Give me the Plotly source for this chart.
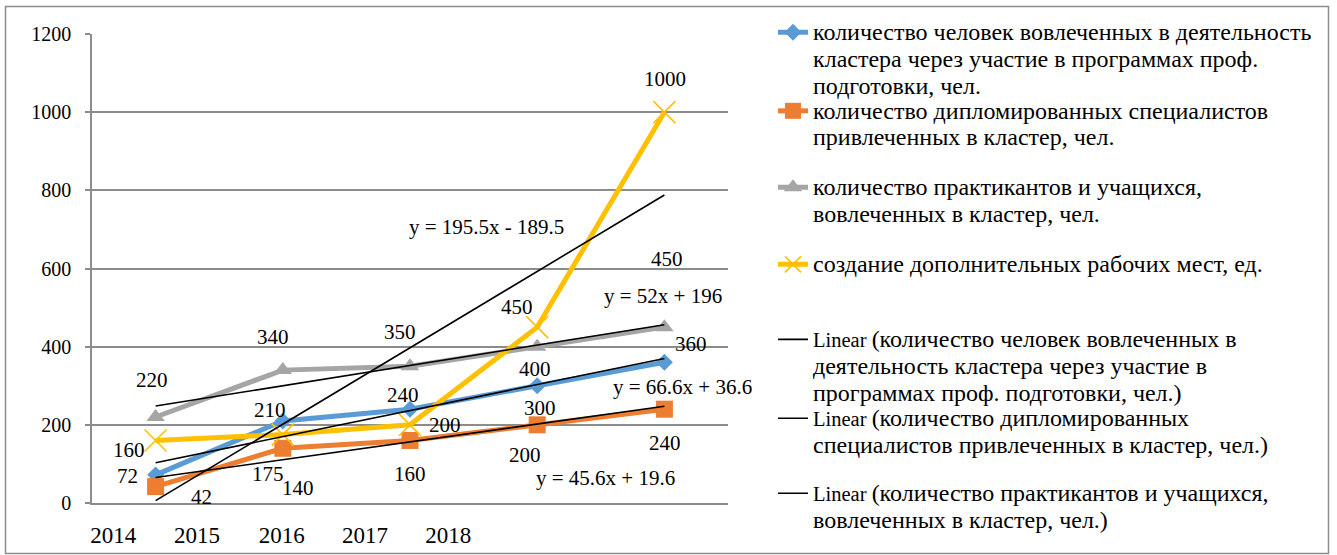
import numpy as np
import plotly.graph_objects as go

# --- data -------------------------------------------------------------
periods = [1, 2, 3, 4, 5]
year_labels = ["2014", "2015", "2016", "2017", "2018"]

people_trained = [72, 210, 240, 300, 360]
graduates = [42, 140, 160, 200, 240]
interns = [220, 340, 350, 400, 450]
new_jobs = [160, 175, 200, 450, 1000]

series_lines = [
    ["количество человек вовлеченных в деятельность",
     "кластера через участие в программах проф.",
     "подготовки, чел."],
    ["количество дипломированных специалистов",
     "привлеченных в кластер, чел."],
    ["количество практикантов и учащихся,",
     "вовлеченных в кластер, чел."],
    ["создание дополнительных рабочих мест, ед."],
]
trend_lines = [
    ["(количество человек вовлеченных в",
     "деятельность кластера через участие в",
     "программах проф. подготовки, чел.)"],
    ["(количество дипломированных",
     "специалистов привлеченных в кластер, чел.)"],
    ["(количество практикантов и учащихся,",
     "вовлеченных в кластер, чел.)"],
    None,
]

# --- styling ----------------------------------------------------------
FONT = "Liberation Serif, Times New Roman, serif"
FS = 20          # y tick labels
FS_LABEL = 21    # data labels / equations
FS_X = 23        # year captions
FS_LEG = 20.5    # legend base size (line spacing)
FS_CYR = 24      # legend cyrillic glyphs
W, H = 1337, 555
L, R, T, B = 92, 609, 34, 52          # plot area margins (px)
PW, PH = W - L - R, H - T - B

colors = ["#5B9BD5", "#ED7D31", "#A5A5A5", "#FFC000"]
markers = [
    dict(symbol="diamond", size=13),
    dict(symbol="square", size=17),
    dict(symbol="triangle-up", size=16),
    dict(symbol="x-thin", size=22, line=dict(width=1.6, color=colors[3])),
]

# data-label offsets (xshift, yshift) in px for each point
label_shifts = [
    [(-28, -1), (-13, 11), (-7, 14), (3, -22), (27, 18)],
    [(46, -10), (15, -40), (0, -34), (-12, -30), (1, -34)],
    [(-4, 37), (-10, 33), (-10, 34), (-2, -22), (3, 68)],
    [(-27, -10), (-15, -39), (35, 0), (-20, 20), (1, 33)],
]
# equation label anchors in data coords
eq_pos = [(5.146, 298), (4.533, 63), (4.989, 530), (3.603, 707)]

# legend: first-line centres (px) of each entry
legend_rows = [33, 111.5, 188, 265, 340, 419, 494]
LEG_TEXT_X = 815


def paper_x(px):
    return (px - L) / PW


def paper_y(py):
    return (H - B - py) / PH


def wide(s):
    return f'<span style="font-size:{FS_CYR}px">{s}</span>'


def legend_text(lines, prefix=""):
    out = []
    for k, ln in enumerate(lines):
        out.append((prefix if k == 0 else "") + wide(ln))
    return "<br>".join(out)


all_series = [people_trained, graduates, interns, new_jobs]

fig = go.Figure()

# main series
for i, vals in enumerate(all_series):
    fig.add_trace(go.Scatter(
        x=periods, y=vals, name=legend_text(series_lines[i]), mode="lines+markers",
        line=dict(color=colors[i], width=5),
        marker=dict(color=colors[i], **markers[i]),
        legend="legend" if i == 0 else f"legend{i + 1}",
        cliponaxis=False,
    ))

# linear trendlines (least squares fit of each series)
annotations = []
for i, vals in enumerate(all_series):
    slope, intercept = np.polyfit(periods, vals, 1)
    slope, intercept = round(slope, 1), round(intercept, 1)
    xs = [periods[0], periods[-1]]
    ys = [slope * x + intercept for x in xs]
    show = trend_lines[i] is not None
    fig.add_trace(go.Scatter(
        x=xs, y=ys, mode="lines",
        name=legend_text(trend_lines[i], "Linear ") if show else "Linear",
        line=dict(color="black", width=1.6),
        showlegend=show,
        legend=f"legend{i + 5}" if show else "legend",
    ))
    sign = "-" if intercept < 0 else "+"
    eq = f"y = {slope:g}x {sign} {abs(intercept):g}"
    annotations.append(dict(
        x=eq_pos[i][0], y=eq_pos[i][1], xref="x", yref="y", text=eq,
        showarrow=False, font=dict(family=FONT, size=FS_LABEL, color="black"),
    ))

# data labels
for i, vals in enumerate(all_series):
    for j, v in enumerate(vals):
        dx, dy = label_shifts[i][j]
        annotations.append(dict(
            x=periods[j], y=v, xref="x", yref="y", text=str(v),
            showarrow=False, xshift=dx, yshift=dy,
            font=dict(family=FONT, size=FS_LABEL, color="black"),
        ))

# year captions along the category axis
tick_px = [113.3, 197.0, 281.7, 365.0, 448.3]
tick_vals = [1 + (p - (L + PW / 10)) / (PW / 5) for p in tick_px]

layout_legends = {}
for k, row in enumerate(legend_rows):
    key = "legend" if k == 0 else f"legend{k + 1}"
    layout_legends[key] = dict(
        x=paper_x(LEG_TEXT_X - 42), y=paper_y(row - 20.5),
        xanchor="left", yanchor="top", valign="top",
        bgcolor="rgba(0,0,0,0)", borderwidth=0,
        font=dict(family=FONT, size=FS_LEG, color="black"),
        tracegroupgap=0,
    )

fig.update_layout(
    width=W, height=H,
    margin=dict(l=L, r=R, t=T, b=B, pad=0, autoexpand=False),
    paper_bgcolor="white", plot_bgcolor="white",
    font=dict(family=FONT, size=FS, color="black"),
    annotations=annotations,
    shapes=[dict(
        type="rect", xref="paper", yref="paper",
        x0=paper_x(5.5), x1=paper_x(1328.5), y0=paper_y(553.5), y1=paper_y(6.5),
        line=dict(color="#8C8C8C", width=1.5), fillcolor="rgba(0,0,0,0)", layer="below",
    )],
    xaxis=dict(
        range=[0.5, 5.5], tickmode="array", tickvals=tick_vals, ticktext=year_labels,
        showgrid=False, zeroline=False, showline=True, linecolor="#8C8C8C", linewidth=1.5,
        ticks="", ticklabelstandoff=11, automargin=False,
        tickfont=dict(family=FONT, size=FS_X, color="black"),
    ),
    yaxis=dict(
        range=[0, 1200], tickvals=[0, 200, 400, 600, 800, 1000, 1200],
        showgrid=True, gridcolor="#8C8C8C", gridwidth=1.5,
        zeroline=False, showline=True, linecolor="#8C8C8C", linewidth=1.5,
        ticks="outside", ticklen=5, tickcolor="#8C8C8C", tickwidth=1.5,
        ticklabelstandoff=10, automargin=False,
        tickfont=dict(family=FONT, size=FS, color="black"),
    ),
    **layout_legends,
)

fig.write_html("out.html")
